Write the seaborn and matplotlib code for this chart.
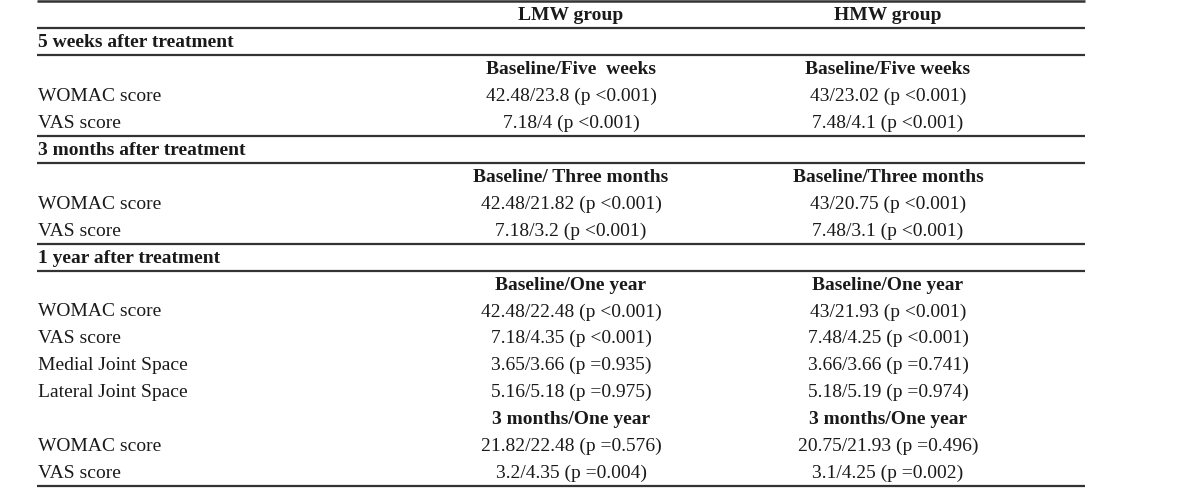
import matplotlib.pyplot as plt
import seaborn as sns

# table content, one entry per printed row
row_labels = ["", "5 weeks after treatment", "", "WOMAC score", "VAS score",
              "3 months after treatment", "", "WOMAC score", "VAS score",
              "1 year after treatment", "", "WOMAC score", "VAS score",
              "Medial Joint Space", "Lateral Joint Space", "",
              "WOMAC score", "VAS score"]
lmw = ["LMW group", "", "Baseline/Five  weeks", "42.48/23.8 (p <0.001)", "7.18/4 (p <0.001)",
       "", "Baseline/ Three months", "42.48/21.82 (p <0.001)", "7.18/3.2 (p <0.001)",
       "", "Baseline/One year", "42.48/22.48 (p <0.001)", "7.18/4.35 (p <0.001)",
       "3.65/3.66 (p =0.935)", "5.16/5.18 (p =0.975)", "3 months/One year",
       "21.82/22.48 (p =0.576)", "3.2/4.35 (p =0.004)"]
hmw = ["HMW group", "", "Baseline/Five weeks", "43/23.02 (p <0.001)", "7.48/4.1 (p <0.001)",
       "", "Baseline/Three months", "43/20.75 (p <0.001)", "7.48/3.1 (p <0.001)",
       "", "Baseline/One year", "43/21.93 (p <0.001)", "7.48/4.25 (p <0.001)",
       "3.66/3.66 (p =0.741)", "5.18/5.19 (p =0.974)", "3 months/One year",
       "20.75/21.93 (p =0.496)", "3.1/4.25 (p =0.002)"]
bold_rows = [0, 1, 2, 5, 6, 9, 10, 15]
rules_after = [0, 1, 4, 5, 8, 9, 17]

sns.set_theme(style="white")
plt.rcParams['font.family'] = ['Liberation Serif', 'DejaVu Serif']

fig, ax = plt.subplots(figsize=(12, 4.89), dpi=100)
fig.subplots_adjust(0, 0, 1, 1)
ax.set_xlim(0, 1200)
ax.set_ylim(489, 0)
ax.axis("off")

y0, pitch = 16, 26.9
x_lab, x_lmw, x_hmw = 38, 571, 888
left, right = 37, 1085
ink = "#1a1a1a"

for i, (lab, a, b) in enumerate(zip(row_labels, lmw, hmw)):
    y = y0 + i * pitch
    w = "bold" if i in bold_rows else "normal"
    ax.text(x_lab, y, lab, ha="left", va="center", fontsize=14, fontweight=w, color=ink)
    ax.text(x_lmw, y, a, ha="center", va="center", fontsize=14, fontweight=w, color=ink)
    ax.text(x_hmw, y, b, ha="center", va="center", fontsize=14, fontweight=w, color=ink)

ax.hlines(2, left, right, color="#333333", lw=1.8)
for i in rules_after:
    ax.hlines(y0 + i * pitch + pitch / 2, left, right, color="#333333", lw=1.6)

fig.savefig("out.png", dpi=100, facecolor="white")
